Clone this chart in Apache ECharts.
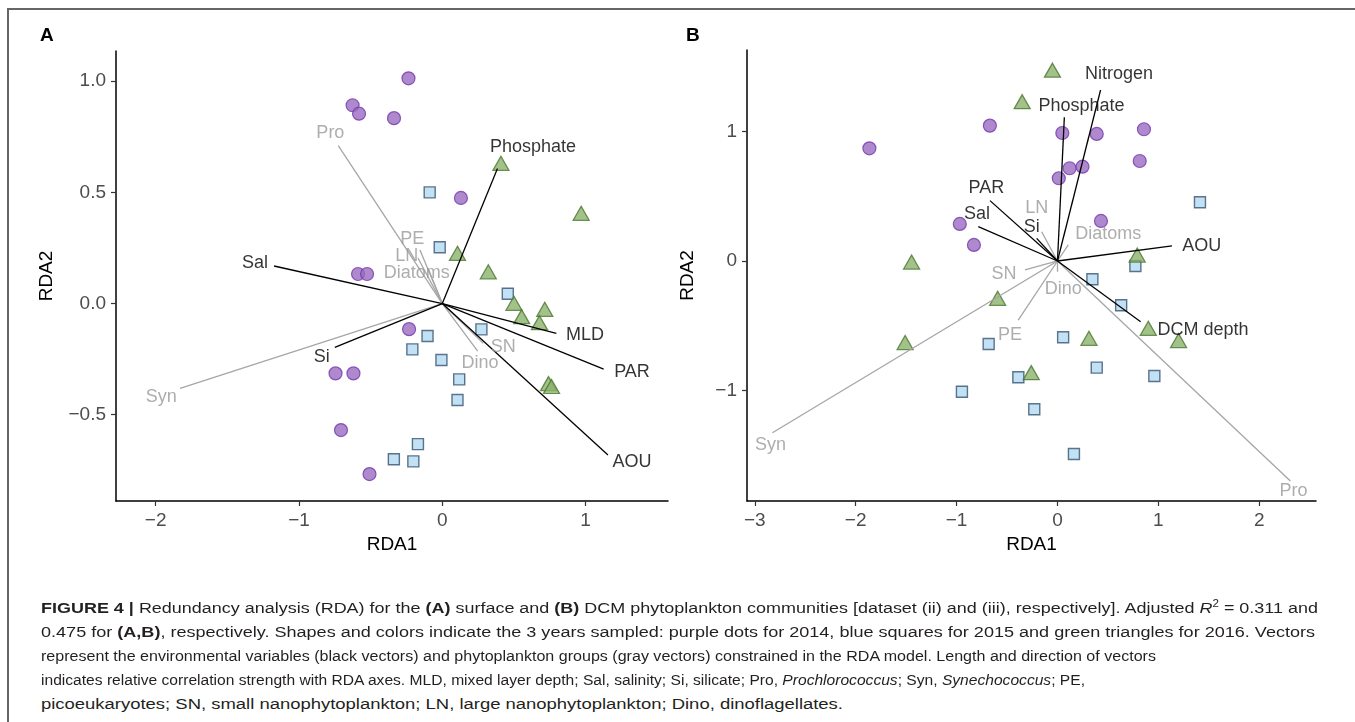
<!DOCTYPE html>
<html>
<head>
<meta charset="utf-8">
<script src="https://cdn.jsdelivr.net/npm/echarts@6/dist/echarts.min.js"></script>
<style>
  html, body { margin: 0; padding: 0; background: #fff; }
  #wrap { position: relative; width: 1355px; height: 722px; overflow: hidden; }
  #frame { position: absolute; left: 7px; top: 8px; right: -10px; bottom: -10px;
           border-top: 2px solid #666; border-left: 2px solid #666; }
  #chart { position: absolute; left: 0; top: 0; width: 1355px; height: 590px; }
  #caption { position: absolute; left: 41px; top: 592px; font-family: "Liberation Sans", Arial, sans-serif;
             font-size: 15.5px; line-height: 24px; color: #231f20; white-space: nowrap; }
  #caption .ln { display: block; width: max-content; transform-origin: 0 50%; }
  #caption b { font-weight: bold; }
</style>
</head>
<body>
<div id="wrap">
  <div id="frame"></div>
  <div id="chart"></div>
  <div id="caption">
    <span class="ln"><b>FIGURE 4 |</b> Redundancy analysis (RDA) for the <b>(A)</b> surface and <b>(B)</b> DCM phytoplankton communities [dataset (ii) and (iii), respectively]. Adjusted <i>R</i><sup style="font-size:10px">2</sup> = 0.311 and</span>
    <span class="ln">0.475 for <b>(A,B)</b>, respectively. Shapes and colors indicate the 3 years sampled: purple dots for 2014, blue squares for 2015 and green triangles for 2016. Vectors</span>
    <span class="ln">represent the environmental variables (black vectors) and phytoplankton groups (gray vectors) constrained in the RDA model. Length and direction of vectors</span>
    <span class="ln">indicates relative correlation strength with RDA axes. MLD, mixed layer depth; Sal, salinity; Si, silicate; Pro, <i>Prochlorococcus</i>; Syn, <i>Synechococcus</i>; PE,</span>
    <span class="ln">picoeukaryotes; SN, small nanophytoplankton; LN, large nanophytoplankton; Dino, dinoflagellates.</span>
  </div>
</div>
<script>
// ---- panel A: surface samples (RDA1, RDA2) ----
const surf2014 = [[-0.236, 1.013], [-0.626, 0.892], [-0.581, 0.854], [-0.337, 0.834], [0.130, 0.475],
  [-0.588, 0.133], [-0.525, 0.133], [-0.232, -0.115], [-0.745, -0.314], [-0.620, -0.314],
  [-0.707, -0.569], [-0.508, -0.767]];
const surf2015 = [[-0.088, 0.500], [-0.018, 0.253], [0.457, 0.044], [0.273, -0.116], [-0.103, -0.146],
  [-0.209, -0.206], [-0.006, -0.254], [0.118, -0.341], [0.106, -0.434], [-0.170, -0.632],
  [-0.338, -0.700], [-0.202, -0.710]];
const surf2016 = [[0.409, 0.631], [0.969, 0.406], [0.106, 0.226], [0.321, 0.143], [0.500, 0.001],
  [0.715, -0.026], [0.554, -0.059], [0.678, -0.086], [0.741, -0.360], [0.762, -0.373]];

// panel A vectors: environmental (black) and phytoplankton groups (gray)
const surfEnvNames = ['Phosphate', 'Sal', 'MLD', 'PAR', 'AOU', 'Si'];
const surfEnvEnds = [[0.385, 0.608], [-1.174, 0.169], [0.796, -0.134], [1.126, -0.295], [1.156, -0.681], [-0.750, -0.197]];
const surfEnvLabelAt = [[0.633, 0.704], [-1.307, 0.184], [0.996, -0.142], [1.324, -0.310], [1.324, -0.712], [-0.841, -0.242]];
const surfGrpNames = ['Pro', 'Syn', 'PE', 'LN', 'Diatoms', 'SN', 'Dino'];
const surfGrpEnds = [[-0.726, 0.710], [-1.830, -0.381], [-0.156, 0.241], [-0.170, 0.205], [-0.100, 0.160], [0.286, -0.179], [0.247, -0.214]];
const surfGrpLabelAt = [[-0.781, 0.766], [-1.961, -0.419], [-0.209, 0.290], [-0.248, 0.214], [-0.179, 0.136], [0.425, -0.194], [0.263, -0.269]];

// ---- panel B: DCM samples ----
const dcm2014 = [[-1.864, 0.870], [-0.670, 1.045], [0.048, 0.988], [0.389, 0.981], [0.857, 1.017],
  [0.815, 0.772], [0.013, 0.639], [0.120, 0.716], [0.248, 0.728], [0.431, 0.309],
  [-0.968, 0.286], [-0.828, 0.124]];
const dcm2015 = [[1.412, 0.453], [0.772, -0.039], [0.346, -0.141], [0.631, -0.342], [0.056, -0.589],
  [-0.682, -0.641], [0.389, -0.823], [-0.388, -0.898], [0.960, -0.888], [-0.947, -1.009],
  [-0.230, -1.145], [0.163, -1.490]];
const dcm2016 = [[-0.050, 1.473], [-0.350, 1.230], [-1.446, -0.008], [0.790, 0.046], [-0.593, -0.288],
  [-1.510, -0.630], [0.900, -0.520], [0.312, -0.597], [1.200, -0.614], [-0.260, -0.862]];

const dcmEnvNames = ['Nitrogen', 'Phosphate', 'PAR', 'Sal', 'Si', 'AOU', 'DCM depth'];
const dcmEnvEnds = [[0.427, 1.320], [0.068, 1.110], [-0.669, 0.466], [-0.785, 0.265], [-0.206, 0.175], [1.135, 0.116], [0.824, -0.469]];
const dcmEnvLabelAt = [[0.610, 1.444], [0.239, 1.197], [-0.704, 0.561], [-0.798, 0.363], [-0.256, 0.260], [1.429, 0.118], [1.442, -0.533]];
const dcmGrpNames = ['LN', 'Diatoms', 'SN', 'Dino', 'PE', 'Syn', 'Pro'];
const dcmGrpEnds = [[-0.157, 0.226], [0.107, 0.124], [-0.322, -0.069], [0.002, -0.083], [-0.389, -0.456], [-2.825, -1.326], [2.308, -1.699]];
const dcmGrpLabelAt = [[-0.206, 0.407], [0.503, 0.208], [-0.530, -0.100], [0.057, -0.219], [-0.471, -0.571], [-2.845, -1.421], [2.338, -1.774]];

// tick labels
const surfXTicks = [-2, -1, 0, 1];
const surfYTicks = [-0.5, 0, 0.5, 1];
const dcmXTicks = [-3, -2, -1, 0, 1, 2];
const dcmYTicks = [-1, 0, 1];

const FONT = '"Liberation Sans", Arial, sans-serif';
const minus = (s) => s.replace('-', '\u2212');

function xAxis(idx, min, max, ticks) {
    return {
        gridIndex: idx, type: 'value', min: min, max: max,
        name: 'RDA1', nameLocation: 'middle', nameGap: 29,
        nameTextStyle: { fontSize: 19, color: '#000', fontFamily: FONT },
        axisLine: { onZero: false, lineStyle: { color: '#000', width: 1.5 } },
        axisTick: { customValues: ticks, length: 5, lineStyle: { color: '#333', width: 1.2 } },
        axisLabel: { customValues: ticks, margin: 10, fontSize: 19, color: '#4d4d4d', fontFamily: FONT,
            formatter: (v) => minus(String(v)) },
        splitLine: { show: false }
    };
}
function yAxis(idx, min, max, ticks, digits) {
    return {
        gridIndex: idx, type: 'value', min: min, max: max,
        name: 'RDA2', nameLocation: 'middle', nameGap: digits ? 60 : 50, nameRotate: 90,
        nameTextStyle: { fontSize: 19, color: '#000', fontFamily: FONT },
        axisLine: { onZero: false, lineStyle: { color: '#000', width: 1.5 } },
        axisTick: { customValues: ticks, length: 5, lineStyle: { color: '#333', width: 1.2 } },
        axisLabel: { customValues: ticks, margin: 10, fontSize: 19, color: '#4d4d4d', fontFamily: FONT,
            formatter: (v) => minus(digits ? v.toFixed(digits) : String(v)) },
        splitLine: { show: false }
    };
}

const pointStyle = {
    circle: { symbol: 'circle', symbolSize: 13, itemStyle: { color: '#9a6cc0', borderColor: '#7436ad', borderWidth: 1.2 } },
    rect: { symbol: 'rect', symbolSize: 11, itemStyle: { color: '#b4d9f3', borderColor: '#36546f', borderWidth: 1.4 } },
    triangle: { symbol: 'triangle', symbolSize: [16, 14], itemStyle: { color: '#8cb36b', borderColor: '#4a7731', borderWidth: 1.3 } }
};

function points(idx, data, shape) {
    return Object.assign({ type: 'scatter', xAxisIndex: idx, yAxisIndex: idx, data: data, silent: true, z: 2 },
        pointStyle[shape]);
}
function vectors(idx, ends, color) {
    return {
        type: 'lines', coordinateSystem: 'cartesian2d', xAxisIndex: idx, yAxisIndex: idx, silent: true, z: 3,
        lineStyle: { color: color, width: 1.3, opacity: 1 },
        data: ends.map((e) => ({ coords: [[0, 0], e] }))
    };
}
function labels(idx, names, at, color) {
    return {
        type: 'scatter', xAxisIndex: idx, yAxisIndex: idx, silent: true, z: 4, symbolSize: 0,
        data: names.map((n, i) => ({ name: n, value: at[i] })),
        label: { show: true, position: 'inside', formatter: '{b}', fontSize: 18, color: color, fontFamily: FONT }
    };
}

const chart = echarts.init(document.getElementById('chart'));
chart.setOption({
    animation: false,
    graphic: [
        { type: 'text', left: 40, top: 26, style: { text: 'A', font: 'bold 19px ' + FONT, fill: '#000' } },
        { type: 'text', left: 686, top: 26, style: { text: 'B', font: 'bold 19px ' + FONT, fill: '#000' } }
    ],
    grid: [
        { left: 116, top: 51, width: 552, height: 450 },
        { left: 747, top: 50, width: 569, height: 451 }
    ],
    xAxis: [xAxis(0, -2.277, 1.575, surfXTicks), xAxis(1, -3.077, 2.562, dcmXTicks)],
    yAxis: [yAxis(0, -0.888, 1.136, surfYTicks, 1), yAxis(1, -1.853, 1.629, dcmYTicks, 0)],
    series: [
        points(0, surf2014, 'circle'), points(0, surf2015, 'rect'), points(0, surf2016, 'triangle'),
        vectors(0, surfGrpEnds, '#a6a6a6'), vectors(0, surfEnvEnds, '#000'),
        labels(0, surfGrpNames, surfGrpLabelAt, '#999'), labels(0, surfEnvNames, surfEnvLabelAt, '#000'),

        points(1, dcm2014, 'circle'), points(1, dcm2015, 'rect'), points(1, dcm2016, 'triangle'),
        vectors(1, dcmGrpEnds, '#a6a6a6'), vectors(1, dcmEnvEnds, '#000'),
        labels(1, dcmGrpNames, dcmGrpLabelAt, '#999'), labels(1, dcmEnvNames, dcmEnvLabelAt, '#000')
    ]
});

// stretch each caption line to the width it has in the figure
const captionWidths = [1277, 1274, 1115, 1044, 802];
document.querySelectorAll('#caption .ln').forEach((el, i) => {
    const w = el.getBoundingClientRect().width;
    el.style.transform = 'scaleX(' + (captionWidths[i] / w).toFixed(4) + ')';
});
</script>
</body>
</html>
